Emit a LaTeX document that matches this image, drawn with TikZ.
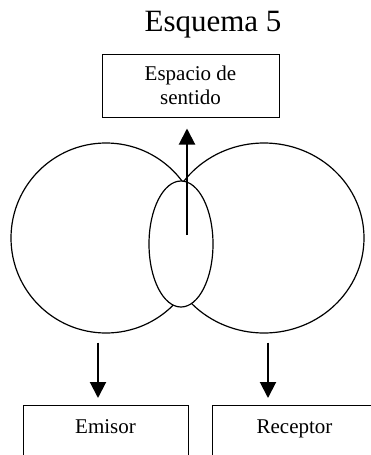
\documentclass[tikz,border=0pt]{standalone}
\usepackage{fontspec}
\setmainfont{Liberation Serif}
\usepackage{tikz}
\usetikzlibrary{arrows.meta,shapes.geometric}

\tikzset{
	caja/.style={draw, line width=1pt, inner sep=0pt, font=\fontsize{21}{24}\selectfont},
	abajo/.style={caja, anchor=north, minimum width=165, text height=15pt, text depth=70pt, inner ysep=13pt},
	flecha/.style={-{Triangle[length=16pt,width=16pt]}, line width=2pt},
	aro/.style={draw, line width=1.2pt, inner sep=0pt}
}

\begin{document}
\begin{tikzpicture}[x=1pt,y=-1pt]
			\clip (0,0) rectangle (371,455);
			
			\node[anchor=base, font=\fontsize{31}{36}\selectfont] (titulo) at (213,31) {Esquema 5};
			
			\node[caja, align=center, minimum width=177, minimum height=63] (sentido) at (190.5,85.5) {Espacio de\\sentido};
			
			\node[aro, circle, minimum size=190] (emi) at (106,238) {};
			\node[aro, ellipse, minimum width=200, minimum height=190] (rec) at (264,238) {};
			\node[aro, ellipse, fill=white, minimum width=64, minimum height=126] (inter) at (181,244) {};
			
			\node[abajo] (emisor) at (105.5,405) {Emisor};
			\node[abajo] (receptor) at (294.5,405) {Receptor};
			
			\coordinate (centro) at ([xshift=6pt,yshift=9pt]inter.center);
			\draw [flecha, shorten >=11pt] (centro) -- (centro |- sentido.south);
			
			\draw [flecha, shorten <=9pt, shorten >=7pt] ([xshift=-8pt]emi.south) -- ([xshift=-8pt]emi.south |- emisor.north);
			\draw [flecha, shorten <=9pt, shorten >=7pt] ([xshift=4pt]rec.south) -- ([xshift=4pt]rec.south |- receptor.north);
		\end{tikzpicture}
\end{document}
